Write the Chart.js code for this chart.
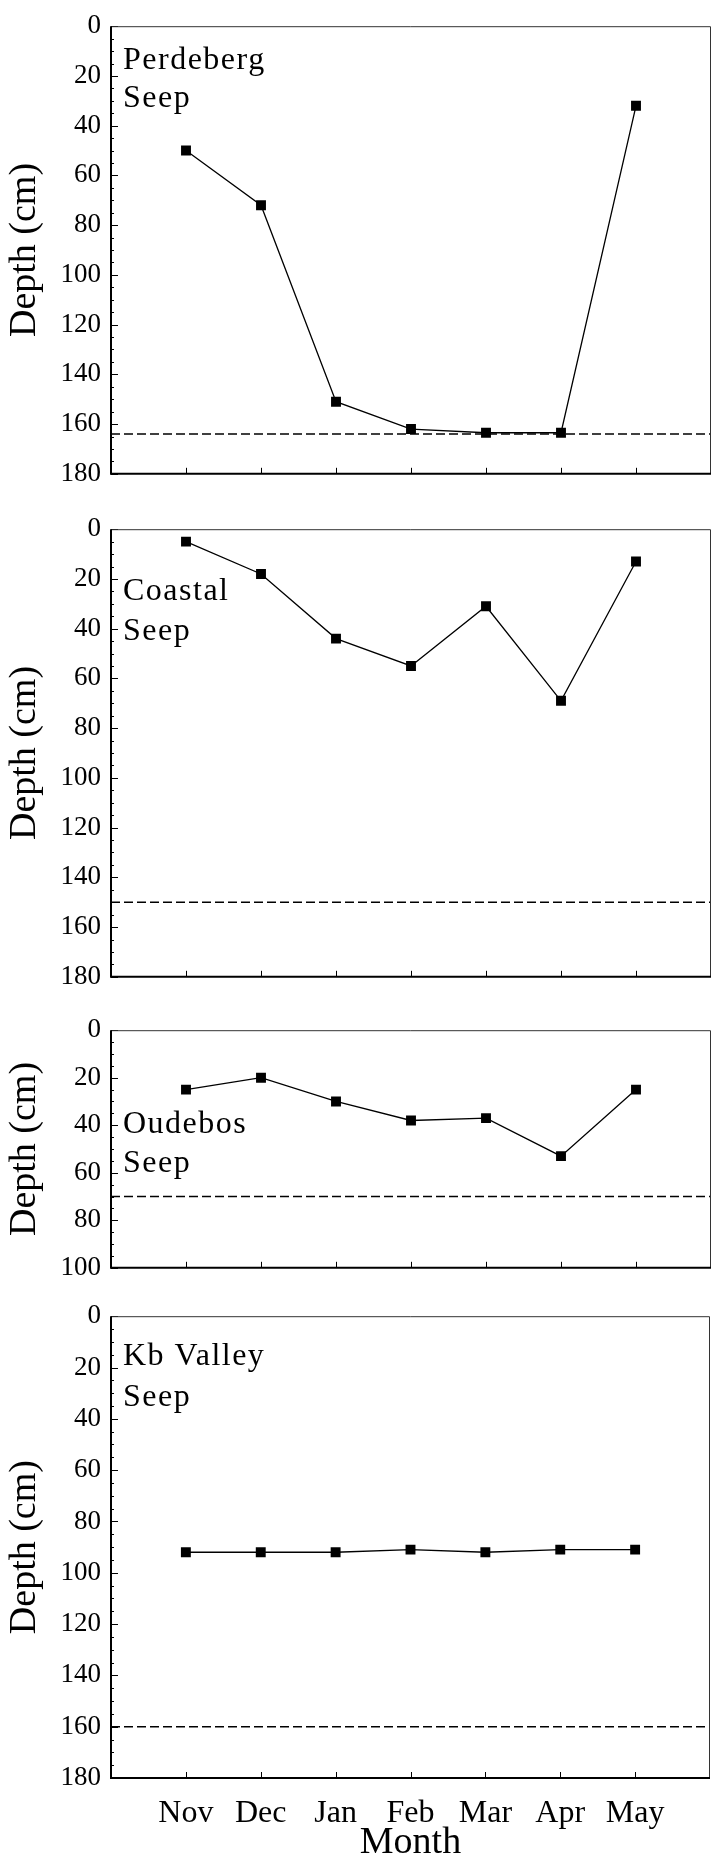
<!DOCTYPE html>
<html>
<head>
<meta charset="utf-8">
<script src="https://cdn.jsdelivr.net/npm/chart.js@4.4.0/dist/chart.umd.min.js"></script>
<style>
  html, body { margin: 0; padding: 0; background: #fff; }
  body { width: 718px; height: 1865px; position: relative; overflow: hidden; }
  .panel { position: absolute; left: 0; width: 718px; }
</style>
</head>
<body>
<div class="panel" style="top:0px;height:500px"><canvas id="c1"></canvas></div>
<div class="panel" style="top:503px;height:500px"><canvas id="c2"></canvas></div>
<div class="panel" style="top:1004px;height:290px"><canvas id="c3"></canvas></div>
<div class="panel" style="top:1290px;height:575px"><canvas id="c4"></canvas></div>
<script>
// months along the x axis
const months = ["Nov", "Dec", "Jan", "Feb", "Mar", "Apr", "May"];

// water table depth (cm) read per month
const perdeberg = [50, 72, 151, 162, 163.5, 163.5, 32];
const coastal = [5, 18, 44, 55, 31, 69, 13];
const oudebos = [25, 20, 30, 38, 37, 53, 25];
const kbValley = [92, 92, 92, 91, 92, 91, 91];

// dashed reference depth for each seep
const perdebergLevel = 164;
const coastalLevel = 150;
const oudebosLevel = 70;
const kbValleyLevel = 160;

const siteNames = ["Perdeberg", "Coastal", "Oudebos", "Kb Valley"];
const depthMax = [180, 180, 100, 180];

const serif = '"Liberation Serif", "Times New Roman", serif';
Chart.defaults.font.family = serif;
Chart.defaults.color = "#000";

// frame, inward ticks and the site label
const framePlugin = {
  id: "frame",
  afterDraw(chart, args, opts) {
    const ctx = chart.ctx;
    const a = chart.chartArea;
    const yScale = chart.scales.y;
    const xScale = chart.scales.x;
    ctx.save();
    ctx.strokeStyle = "#000";
    // y ticks, major every 20, minor every 5
    ctx.lineWidth = 1;
    for (let v = 0; v <= yScale.max; v += 5) {
      const py = Math.round(yScale.getPixelForValue(v)) + 0.5;
      const len = v % 20 === 0 ? 7 : 3;
      ctx.beginPath();
      ctx.moveTo(a.left, py);
      ctx.lineTo(a.left + len, py);
      ctx.stroke();
    }
    // x ticks at each month
    for (let i = 1; i <= months.length; i++) {
      const px = Math.round(xScale.getPixelForValue(i)) + 0.5;
      ctx.beginPath();
      ctx.moveTo(px, a.bottom);
      ctx.lineTo(px, a.bottom - 6);
      ctx.stroke();
    }
    // top and right border (thin)
    ctx.strokeStyle = "#333";
    ctx.lineWidth = 1;
    ctx.beginPath();
    ctx.moveTo(a.left, a.top + 0.5);
    ctx.lineTo(a.right - 0.5, a.top + 0.5);
    ctx.lineTo(a.right - 0.5, a.bottom);
    ctx.stroke();
    // left and bottom axes (thicker)
    ctx.strokeStyle = "#000";
    ctx.lineWidth = 2;
    ctx.beginPath();
    ctx.moveTo(a.left, a.top);
    ctx.lineTo(a.left, a.bottom);
    ctx.lineTo(a.right, a.bottom);
    ctx.stroke();
    // site label
    ctx.fillStyle = "#000";
    ctx.font = "32px " + serif;
    ctx.textBaseline = "alphabetic";
    ctx.letterSpacing = "1.5px";
    opts.lines.forEach((t, i) => {
      ctx.fillText(t, a.left + 12, a.top + opts.offsets[i]);
    });
    ctx.restore();
  }
};

function makePanel(id, values, level, idx, padTop, xHeight, labelOffsets, showMonths) {
  const points = values.map((v, i) => ({ x: i + 1, y: v }));
  new Chart(document.getElementById(id), {
    type: "line",
    data: {
      datasets: [
        {
          data: points,
          borderColor: "#000",
          borderWidth: 1.3,
          pointStyle: "rect",
          pointRadius: 7,
          pointBackgroundColor: "#000",
          pointBorderColor: "#000",
          pointBorderWidth: 0,
          tension: 0
        },
        {
          data: [{ x: 0, y: level }, { x: 8, y: level }],
          borderColor: "#000",
          borderWidth: 1.6,
          borderDash: [9, 4],
          pointRadius: 0
        }
      ]
    },
    options: {
      responsive: true,
      maintainAspectRatio: false,
      animation: false,
      layout: { padding: { top: padTop, right: 4, left: 0, bottom: 0 } },
      plugins: {
        legend: { display: false },
        tooltip: { enabled: false },
        frame: { lines: [siteNames[idx], "Seep"], offsets: labelOffsets }
      },
      scales: {
        x: {
          type: "linear",
          min: 0,
          max: 8,
          grid: { display: false },
          border: { display: false },
          ticks: {
            display: showMonths,
            stepSize: 1,
            autoSkip: false,
            maxRotation: 0,
            padding: 8,
            font: { family: serif, size: 32 },
            callback: (v) => months[v - 1] || ""
          },
          title: {
            display: showMonths,
            text: "Month",
            font: { family: serif, size: 38, lineHeight: 1.0 },
            padding: { top: 0, bottom: 3 }
          },
          afterFit: (s) => { s.height = xHeight; }
        },
        y: {
          type: "linear",
          reverse: true,
          min: 0,
          max: depthMax[idx],
          grid: { display: false, drawTicks: false },
          border: { display: false },
          ticks: { stepSize: 20, padding: 10, font: { family: serif, size: 27 } },
          title: {
            display: true,
            text: "Depth (cm)",
            font: { family: serif, size: 38 },
            padding: { top: 2, bottom: 0 }
          },
          afterFit: (s) => { s.width = 111; }
        }
      }
    },
    plugins: [framePlugin]
  });
}

makePanel("c1", perdeberg, perdebergLevel, 0, 23, 12, [43, 81], false);
makePanel("c2", coastal, coastalLevel, 1, 23, 12, [71, 111], false);
makePanel("c3", oudebos, oudebosLevel, 2, 23, 10, [103, 142], false);
makePanel("c4", kbValley, kbValleyLevel, 3, 24, 87, [49, 90], true);
</script>
</body>
</html>
